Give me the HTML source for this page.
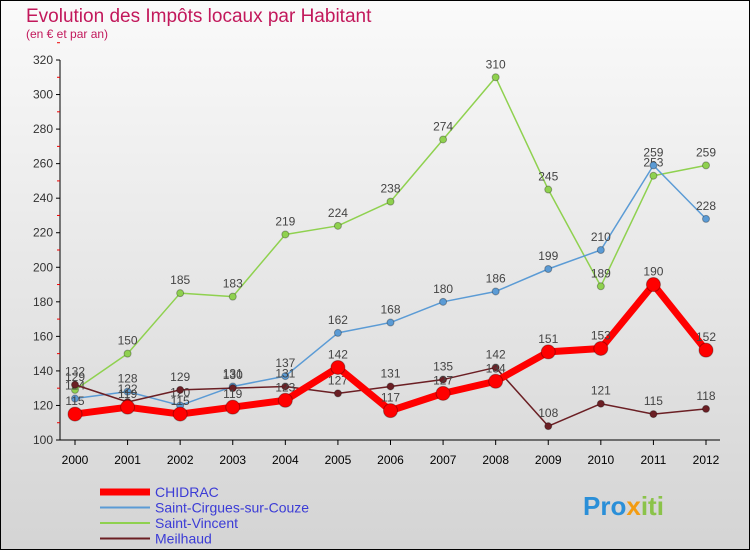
<!DOCTYPE html>
<html><head><meta charset="utf-8"><style>
html,body{margin:0;padding:0}
body{width:750px;height:550px;overflow:hidden;font-family:"Liberation Sans",sans-serif}
</style></head><body>
<svg width="750" height="550" xmlns="http://www.w3.org/2000/svg">
<defs><linearGradient id="bg" x1="0" y1="0" x2="0" y2="1"><stop offset="0" stop-color="#fafafa"/><stop offset="1" stop-color="#d4d4d4"/></linearGradient></defs>
<rect x="0.5" y="0.5" width="749" height="549" fill="url(#bg)" stroke="#000"/>
<text x="26" y="22" font-size="19" fill="#c2185b">Evolution des Impôts locaux par Habitant</text>
<text x="26" y="38" font-size="12" fill="#c2185b">(en € et par an)</text>
<g id="axes"></g>
<g id="series"></g>
<g id="legend"></g>
<text x="583" y="515" font-size="26" font-weight="bold"><tspan fill="#2a8fd8">Pro</tspan><tspan fill="#f39c12">x</tspan><tspan fill="#8bc34a">iti</tspan></text>
</svg>
<script>
const years=[2000,2001,2002,2003,2004,2005,2006,2007,2008,2009,2010,2011,2012];
const yTicks=[100,120,140,160,180,200,220,240,260,280,300,320];
const chidrac=[115,119,115,119,123,142,117,127,134,151,153,190,152];
const cirgues=[124,128,120,131,137,162,168,180,186,199,210,259,228];
const vincent=[129,150,185,183,219,224,238,274,310,245,189,253,259];
const meilhaud=[132,122,129,130,131,127,131,135,142,108,121,115,118];
const seriesNames=["CHIDRAC","Saint-Cirgues-sur-Couze","Saint-Vincent","Meilhaud"];
const NS="http://www.w3.org/2000/svg";
const X=i=>75+i*(706-75)/(years.length-1);
const Y=v=>440-(v-100)*380/220;
function mk(t,a,p){const e=document.createElementNS(NS,t);for(const k in a)e.setAttribute(k,a[k]);p.appendChild(e);return e;}
const ax=document.getElementById('axes');
const yl=mk('line',{x1:60,y1:60,x2:60,y2:440,stroke:'#000'},ax);


const xl=mk('line',{x1:60,y1:440,x2:720,y2:440,stroke:'#000'},ax);


yTicks.forEach(v=>{
 mk('line',{x1:56,y1:Y(v),x2:60,y2:Y(v),stroke:'#000'},ax);
 mk('line',{x1:57,y1:Y(v+10),x2:60,y2:Y(v+10),stroke:'#e00'},ax);
 const t=mk('text',{x:53,y:Y(v)+4,'font-size':12,'text-anchor':'end',fill:'#333'},ax);t.textContent=v;
 
 
});
years.forEach((y,i)=>{
 mk('line',{x1:X(i),y1:440,x2:X(i),y2:445,stroke:'#000'},ax);
 const t=mk('text',{x:X(i),y:464,'font-size':12,'text-anchor':'middle',fill:'#000'},ax);t.textContent=y;
 
 
});
const sg=document.getElementById('series');
function draw(data,color,w,r,name){
 const g=mk('g',{},sg);
 
 
 mk('polyline',{points:data.map((v,i)=>X(i)+','+Y(v)).join(' '),fill:'none',stroke:color,'stroke-width':w,'stroke-linejoin':'round'},g);
 data.forEach((v,i)=>{
  const c=mk('circle',{cx:X(i),cy:Y(v),r:r,fill:color,stroke:'rgba(0,0,0,0.3)'},g);
  
  
  const t=mk('text',{x:X(i),y:Y(v)-9,'font-size':12,'text-anchor':'middle',fill:'#444'},g);t.textContent=v;
  
  
 });
}
draw(vincent,'#8fd14f',1.5,3.5,'saint-vincent-series');
draw(cirgues,'#5b9bd5',1.5,3.5,'saint-cirgues-series');
draw(meilhaud,'#6b1f24',1.5,3.5,'meilhaud-series');
draw(chidrac,'#f00',7,7,'chidrac-series');
const lg=document.getElementById('legend');
const lc=['#f00','#5b9bd5','#8fd14f','#6b1f24'],lw=[7,2,2,2];
seriesNames.forEach((n,i)=>{
 const y=492+i*15.5;
 const g=mk('g',{},lg);
 
 
 mk('line',{x1:100,y1:y,x2:150,y2:y,stroke:lc[i],'stroke-width':lw[i]},g);
 const t=mk('text',{x:155,y:y+5,'font-size':14,fill:'#3b3bd6'},g);t.textContent=n;
});
</script>
</body></html>
